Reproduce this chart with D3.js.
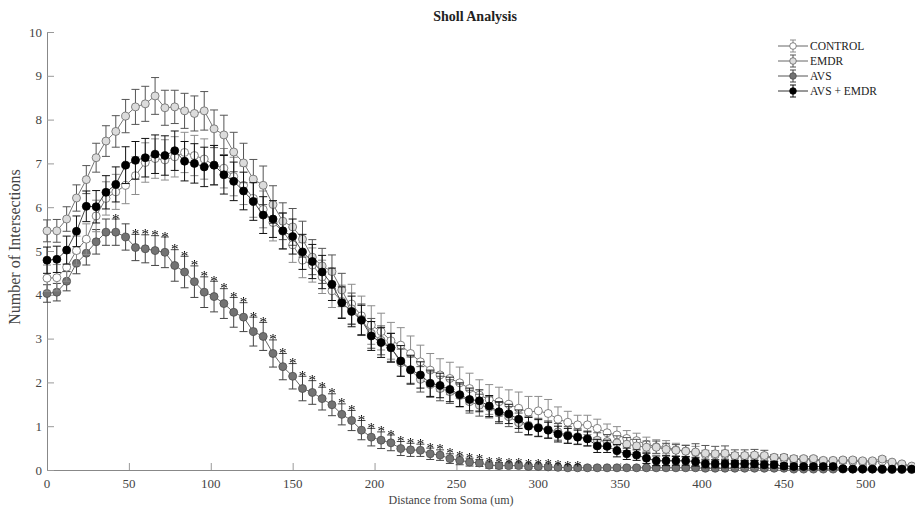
<!DOCTYPE html>
<html>
<head>
<meta charset="utf-8">
<script src="https://cdn.jsdelivr.net/npm/d3@7"></script>
<style>
  body { margin: 0; background: #fff; }
  text { font-family: "Liberation Serif", "DejaVu Serif", serif; }
  .stars { will-change: transform; }
</style>
</head>
<body>
<div id="chart"></div>
<script>
var w = 915,
    h = 510,
    m = [32, 0, 40, 47]; // top right bottom left

// distance from soma (um)
var radius = [0,6,12,18,24,30,36,42,48,54,60,66,72,78,84,90,96,102,108,114,120,126,132,138,144,150,156,162,168,174,
  180,186,192,198,204,210,216,222,228,234,240,246,252,258,264,270,276,282,288,294,300,306,312,318,324,330,336,342,348,354,
  360,366,372,378,384,390,396,402,408,414,420,426,432,438,444,450,456,462,468,474,480,486,492,498,504,510,516,522,528];

var control = [4.38,4.39,4.63,5.01,5.27,5.80,6.20,6.35,6.50,6.72,7.02,7.11,7.08,7.15,7.25,7.18,7.10,6.96,6.89,6.70,6.50,6.20,5.95,5.65,5.45,5.14,4.79,4.68,4.41,4.09,3.85,
  3.79,3.52,3.31,3.16,2.95,2.85,2.66,2.47,2.28,2.17,2.09,1.99,1.86,1.71,1.61,1.56,1.50,1.41,1.32,1.35,1.29,1.16,1.09,1.03,1.03,0.95,0.85,0.80,0.72,0.67,0.59,0.53,0.52,0.46,0.43,0.40,
  0.35,0.34,0.35,0.31,0.30,0.31,0.30,0.27,0.26,0.24,0.24,0.23,0.20,0.20,0.21,0.20,0.19,0.18,0.20,0.16,0.12,0.07];
var controlErr = [0.30,0.30,0.32,0.33,0.35,0.36,0.38,0.40,0.42,0.43,0.45,0.45,0.46,0.46,0.46,0.46,0.46,0.45,0.45,0.44,0.44,0.43,0.42,0.42,0.41,0.40,0.40,0.39,0.38,0.38,0.37,
  0.45,0.45,0.44,0.42,0.42,0.40,0.40,0.38,0.38,0.37,0.37,0.36,0.35,0.35,0.34,0.33,0.33,0.37,0.36,0.33,0.32,0.28,0.25,0.22,0.22,0.21,0.20,0.19,0.18,0.17,0.16,0.16,0.15,0.15,0.14,0.14,
  0.10,0.10,0.10,0.09,0.09,0.09,0.08,0.08,0.08,0.07,0.07,0.07,0.06,0.06,0.06,0.06,0.05,0.05,0.05,0.05,0.04,0.03];

var emdr = [5.46,5.46,5.73,6.21,6.63,7.13,7.51,7.73,8.08,8.29,8.36,8.54,8.27,8.29,8.20,8.14,8.20,7.79,7.65,7.26,7.01,6.64,6.50,6.06,5.68,5.55,5.27,4.86,4.66,4.53,4.11,
  3.68,3.44,3.12,2.96,2.80,2.45,2.28,2.07,1.95,1.86,1.79,1.70,1.56,1.48,1.43,1.30,1.22,1.08,1.02,0.97,0.92,0.87,0.80,0.76,0.72,0.68,0.65,0.62,0.59,0.55,0.52,0.52,0.47,0.45,0.43,0.41,
  0.38,0.37,0.38,0.33,0.33,0.34,0.33,0.29,0.29,0.26,0.26,0.26,0.22,0.22,0.23,0.23,0.21,0.21,0.25,0.18,0.14,0.09];
var emdrErr = [0.25,0.26,0.28,0.30,0.32,0.33,0.35,0.36,0.38,0.40,0.40,0.42,0.40,0.38,0.40,0.40,0.44,0.43,0.45,0.45,0.45,0.45,0.44,0.43,0.42,0.42,0.41,0.40,0.40,0.38,0.38,
  0.36,0.35,0.34,0.33,0.32,0.31,0.30,0.29,0.29,0.28,0.27,0.26,0.26,0.25,0.24,0.24,0.23,0.22,0.21,0.21,0.20,0.19,0.19,0.18,0.17,0.17,0.16,0.16,0.15,0.15,0.14,0.14,0.14,0.13,0.13,0.19,
  0.18,0.17,0.17,0.13,0.13,0.13,0.12,0.05,0.06,0.06,0.05,0.05,0.05,0.05,0.05,0.05,0.04,0.04,0.05,0.03,0.03,0.02];

var avs = [4.03,4.06,4.31,4.72,4.95,5.21,5.43,5.43,5.32,5.08,5.05,5.01,4.97,4.67,4.52,4.30,4.06,3.96,3.80,3.60,3.49,3.16,3.05,2.66,2.36,2.14,1.86,1.77,
  1.63,1.49,1.27,1.13,0.91,0.75,0.68,0.62,0.49,0.46,0.45,0.37,0.34,0.26,0.22,0.18,0.16,0.11,0.10,0.10,0.10,0.08,0.08,0.07,0.06,0.05,0.05,
  0.05,0.05,0.05,0.05,0.05,0.05,0.05,0.05,0.05,0.05,0.05,0.05,0.04,0.04,0.04,0.04,0.04,0.04,0.04,0.04,0.04,0.02,0.02,0.02,0.02,0.02,0.02,0.02,0.02,0.02,0.01,0.01,0.01,0.01];
var avsErr = [0.20,0.20,0.22,0.24,0.27,0.28,0.30,0.30,0.30,0.30,0.32,0.34,0.35,0.36,0.36,0.36,0.35,0.35,0.34,0.34,0.33,0.33,0.32,0.31,0.30,0.29,0.28,0.27,0.26,0.25,0.24,
  0.23,0.22,0.20,0.19,0.18,0.16,0.15,0.14,0.13,0.12,0.11,0.10,0.09,0.08,0.07,0.07,0.06,0.06,0.05,0.05,0.05,0.04,0.04,0.04,0.04,0.04,0.03,0.03,0.03,0.03,0.03,0.03,0.03,0.03,0.03,0.03,
  0.02,0.02,0.02,0.02,0.02,0.02,0.02,0.02,0.02,0.02,0.02,0.02,0.02,0.01,0.01,0.01,0.01,0.01,0.01,0.01,0.01,0.01];

var avsEmdr = [4.79,4.81,5.02,5.45,6.02,6.01,6.34,6.52,6.96,7.07,7.13,7.21,7.18,7.29,7.05,7.00,6.92,6.96,6.74,6.59,6.37,6.13,5.82,5.73,5.46,5.33,4.98,4.76,4.52,4.24,3.82,
  3.62,3.42,3.06,2.91,2.79,2.49,2.29,2.17,1.98,1.93,1.84,1.72,1.61,1.58,1.46,1.33,1.28,1.16,1.00,0.96,0.91,0.82,0.78,0.75,0.71,0.55,0.54,0.44,0.37,0.34,0.27,0.21,0.21,0.21,0.21,0.19,
  0.14,0.14,0.14,0.14,0.14,0.14,0.12,0.12,0.09,0.08,0.08,0.08,0.08,0.08,0.03,0.02,0.02,0.02,0.02,0.02,0.02,0.02];
var avsEmdrErr = [0.30,0.30,0.32,0.35,0.35,0.37,0.38,0.40,0.42,0.43,0.44,0.44,0.45,0.45,0.45,0.45,0.45,0.45,0.44,0.44,0.43,0.43,0.42,0.42,0.41,0.40,0.40,0.39,0.38,0.37,0.36,
  0.35,0.34,0.33,0.34,0.33,0.35,0.33,0.30,0.30,0.28,0.28,0.27,0.26,0.25,0.24,0.23,0.22,0.21,0.20,0.19,0.18,0.18,0.17,0.16,0.16,0.15,0.14,0.14,0.13,0.12,0.12,0.11,0.11,0.10,0.10,0.10,
  0.09,0.09,0.09,0.08,0.08,0.08,0.07,0.07,0.06,0.06,0.05,0.05,0.05,0.05,0.04,0.03,0.03,0.03,0.03,0.03,0.02,0.02];

// radii where AVS differs significantly
var starRadius = [42,54,60,66,72,78,84,90,96,102,108,114,120,126,132,138,144,150,156,162,168,174,180,186,192,198,
  204,210,216,222,228,234,240,246,252,258,264,270,276,282,288,294,300,306,312,318,324];

var xTicks = [0,50,100,150,200,250,300,350,400,450,500];
var yTicks = [0,1,2,3,4,5,6,7,8,9,10];

var series = [
  {name: "AVS", values: avs, err: avsErr, fill: "#737373", stroke: "#4d4d4d", line: "#555", bar: "#444"},
  {name: "CONTROL", values: control, err: controlErr, fill: "#ffffff", stroke: "#666", line: "#666", bar: "#8c8c8c"},
  {name: "EMDR", values: emdr, err: emdrErr, fill: "#dcdcdc", stroke: "#666", line: "#666", bar: "#555"},
  {name: "AVS + EMDR", values: avsEmdr, err: avsEmdrErr, fill: "#000", stroke: "#000", line: "#333", bar: "#111"}
];
var legendOrder = ["CONTROL", "EMDR", "AVS", "AVS + EMDR"];

var x = d3.scaleLinear().domain([0, 530]).range([m[3], w - m[1]]);
var y = d3.scaleLinear().domain([0, 10]).range([h - m[2], m[0]]);

var svg = d3.select("#chart").append("svg")
    .attr("width", w)
    .attr("height", h);

// axes
var xAxis = svg.append("g")
    .attr("transform", "translate(0," + y(0) + ")")
    .call(d3.axisTop(x).tickValues(xTicks).tickSize(7).tickFormat(""));
xAxis.selectAll("line").attr("stroke", "#999");
xAxis.select(".domain").attr("stroke", "#888");

var yAxis = svg.append("g")
    .attr("transform", "translate(" + x(0) + ",0)")
    .call(d3.axisRight(y).tickValues(yTicks).tickSize(7).tickFormat(""));
yAxis.selectAll("line").attr("stroke", "#999");
yAxis.select(".domain").attr("stroke", "#888");

svg.selectAll(".xlab")
    .data(xTicks)
  .enter().append("text")
    .attr("x", function(d) { return x(d); })
    .attr("y", y(0) + 18)
    .attr("text-anchor", "middle")
    .attr("font-size", 13)
    .attr("fill", "#444")
    .text(function(d) { return d; });

svg.selectAll(".ylab")
    .data(yTicks)
  .enter().append("text")
    .attr("x", x(0) - 5)
    .attr("y", function(d) { return y(d) + 4.5; })
    .attr("text-anchor", "end")
    .attr("font-size", 13)
    .attr("fill", "#444")
    .text(function(d) { return d; });

// titles
svg.append("text")
    .attr("x", 475)
    .attr("y", 21)
    .attr("text-anchor", "middle")
    .attr("font-size", 14)
    .attr("font-weight", "bold")
    .attr("fill", "#222")
    .text("Sholl Analysis");

svg.append("text")
    .attr("x", 451)
    .attr("y", 504)
    .attr("text-anchor", "middle")
    .attr("font-size", 12)
    .attr("fill", "#444")
    .text("Distance from Soma (um)");

svg.append("text")
    .attr("transform", "translate(20,247) rotate(-90)")
    .attr("text-anchor", "middle")
    .attr("font-size", 16)
    .attr("fill", "#444")
    .text("Number of Intersections");

// series
var line = d3.line()
    .x(function(d) { return x(d.r); })
    .y(function(d) { return y(d.v); });

series.forEach(function(s) {
  var pts = radius.map(function(r, i) { return {r: r, v: s.values[i], e: s.err[i]}; });
  var g = svg.append("g").attr("class", "series");

  g.append("path")
      .datum(pts)
      .attr("fill", "none")
      .attr("stroke", s.line)
      .attr("stroke-width", 0.9)
      .attr("d", line);

  var bars = g.selectAll(".bar")
      .data(pts)
    .enter().append("g")
      .attr("stroke", s.bar)
      .attr("stroke-width", 1);
  bars.append("line")
      .attr("x1", function(d) { return x(d.r); })
      .attr("x2", function(d) { return x(d.r); })
      .attr("y1", function(d) { return y(d.v + d.e); })
      .attr("y2", function(d) { return y(Math.max(0, d.v - d.e)); });
  bars.append("line")
      .attr("x1", function(d) { return x(d.r) - 4; })
      .attr("x2", function(d) { return x(d.r) + 4; })
      .attr("y1", function(d) { return y(d.v + d.e); })
      .attr("y2", function(d) { return y(d.v + d.e); });
  bars.append("line")
      .attr("x1", function(d) { return x(d.r) - 4; })
      .attr("x2", function(d) { return x(d.r) + 4; })
      .attr("y1", function(d) { return y(Math.max(0, d.v - d.e)); })
      .attr("y2", function(d) { return y(Math.max(0, d.v - d.e)); });

  g.selectAll("circle")
      .data(pts)
    .enter().append("circle")
      .attr("cx", function(d) { return x(d.r); })
      .attr("cy", function(d) { return y(d.v); })
      .attr("r", 4)
      .attr("fill", s.fill)
      .attr("stroke", s.stroke)
      .attr("stroke-width", 0.8);
});

// significance stars above AVS
svg.append("g")
    .attr("class", "stars")
    .attr("transform", "scale(1.0001)")
  .selectAll(".star")
    .data(starRadius)
  .enter().append("text")
    .attr("x", function(r) { return x(r); })
    .attr("y", function(r) {
      var i = radius.indexOf(r);
      return y(avs[i] + avsErr[i]) + 4.5;
    })
    .attr("text-anchor", "middle")
    .attr("font-size", 15)
    .attr("fill", "#000")
    .text("*");

// legend
var legend = svg.append("g")
    .attr("transform", "translate(778,46)");

var item = legend.selectAll(".item")
    .data(legendOrder.map(function(n) { return series.filter(function(s) { return s.name == n; })[0]; }))
  .enter().append("g")
    .attr("transform", function(d, i) { return "translate(0," + (i * 15) + ")"; });

item.append("line")
    .attr("x1", 0).attr("x2", 30)
    .attr("stroke", function(d) { return d.line; });
item.append("line")
    .attr("x1", 15).attr("x2", 15).attr("y1", -6).attr("y2", 6)
    .attr("stroke", function(d) { return d.bar; });
item.append("line")
    .attr("x1", 12).attr("x2", 18).attr("y1", -6).attr("y2", -6)
    .attr("stroke", function(d) { return d.bar; });
item.append("line")
    .attr("x1", 12).attr("x2", 18).attr("y1", 6).attr("y2", 6)
    .attr("stroke", function(d) { return d.bar; });
item.append("circle")
    .attr("cx", 15)
    .attr("r", 3.3)
    .attr("fill", function(d) { return d.fill; })
    .attr("stroke", function(d) { return d.stroke; })
    .attr("stroke-width", 0.8);
item.append("text")
    .attr("x", 32)
    .attr("y", 4)
    .attr("font-size", 11.5)
    .attr("fill", "#222")
    .text(function(d) { return d.name; });
</script>
</body>
</html>
